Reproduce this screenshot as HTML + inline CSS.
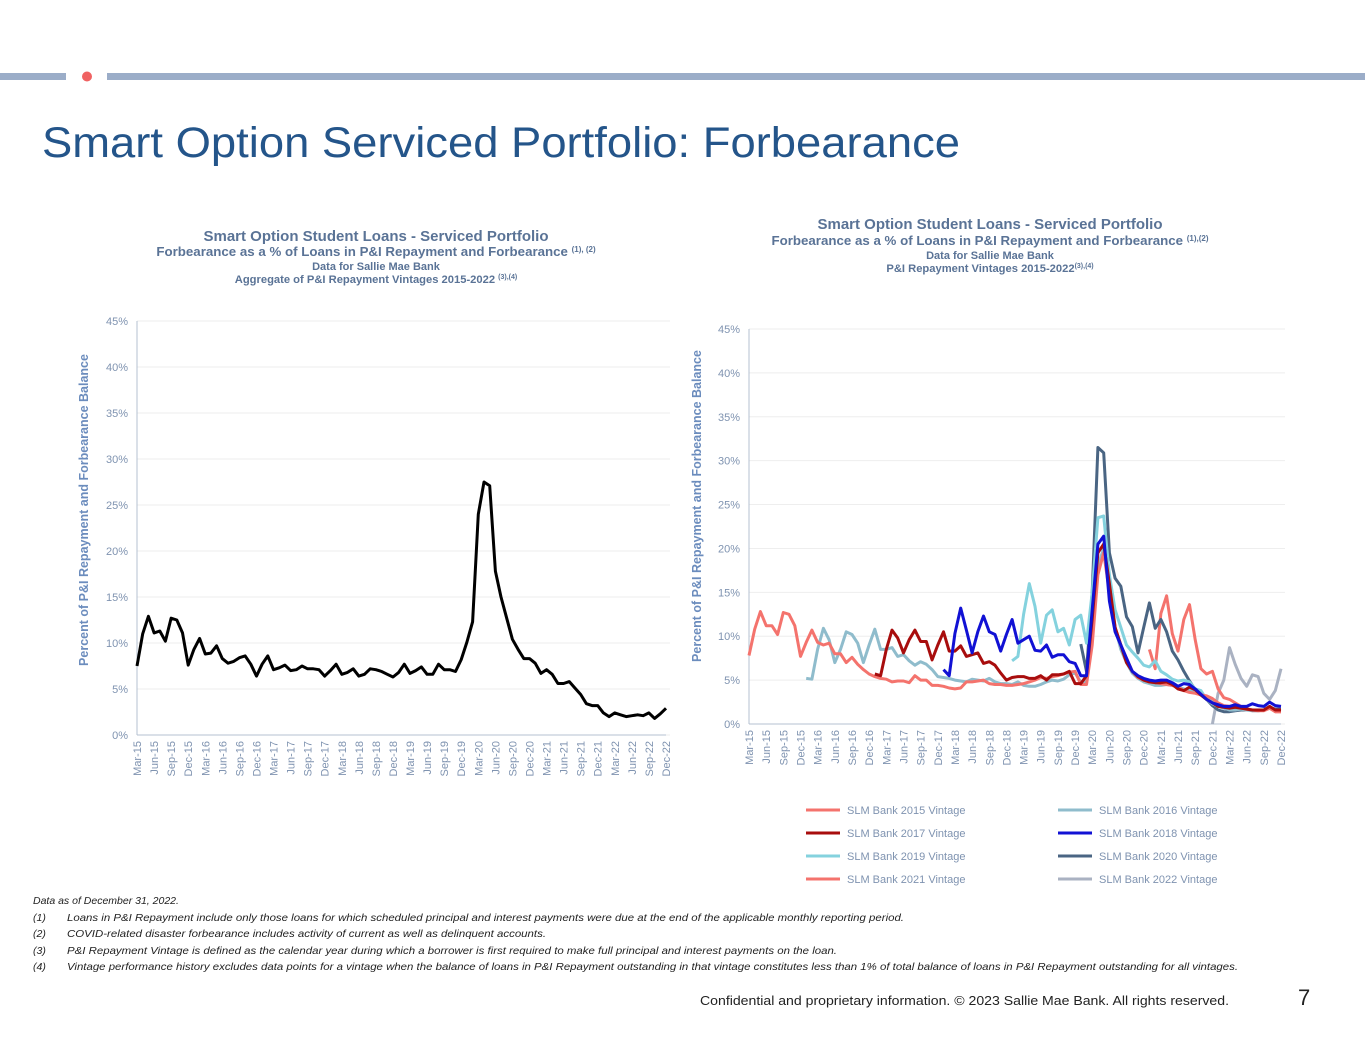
<!DOCTYPE html>
<html><head><meta charset="utf-8">
<style>
body{margin:0;background:#fff;width:1365px;height:1055px;overflow:hidden;font-family:"Liberation Sans",Arial,sans-serif;}
svg text{font-family:"Liberation Sans",Arial,sans-serif;}
</style></head>
<body>
<svg width="1365" height="1055" viewBox="0 0 1365 1055">
<rect x="0" y="73" width="66" height="7" fill="#9badc8"/>
<circle cx="87" cy="76.5" r="5" fill="#f06262"/>
<rect x="107" y="73" width="1258" height="7" fill="#9badc8"/>
<text x="42" y="157" font-size="43" fill="#24558a" textLength="918" lengthAdjust="spacingAndGlyphs">Smart Option Serviced Portfolio: Forbearance</text>

<g fill="#5a7396" font-weight="bold" text-anchor="middle">
<text x="376" y="241" font-size="15">Smart Option Student Loans - Serviced Portfolio</text>
<text x="376" y="256" font-size="13.3">Forbearance as a % of Loans in P&amp;I Repayment and Forbearance <tspan font-size="8" dy="-4">(1), (2)</tspan></text>
<text x="376" y="270" font-size="11">Data for Sallie Mae Bank</text>
<text x="376" y="283" font-size="11.2">Aggregate of P&amp;I Repayment Vintages 2015-2022 <tspan font-size="7" dy="-4">(3),(4)</tspan></text>
</g>
<g fill="#5a7396" font-weight="bold" text-anchor="middle">
<text x="990" y="229" font-size="15">Smart Option Student Loans - Serviced Portfolio</text>
<text x="990" y="245" font-size="13.3">Forbearance as a % of Loans in P&amp;I Repayment and Forbearance <tspan font-size="8" dy="-4">(1),(2)</tspan></text>
<text x="990" y="259" font-size="11">Data for Sallie Mae Bank</text>
<text x="990" y="272" font-size="11.2">P&amp;I Repayment Vintages 2015-2022<tspan font-size="7" dy="-4">(3),(4)</tspan></text>
</g>
<text transform="translate(88,510) rotate(-90)" text-anchor="middle" font-size="12.5" font-weight="bold" fill="#6b8cbd">Percent of P&amp;I Repayment and Forbearance  Balance</text>
<text transform="translate(701,506) rotate(-90)" text-anchor="middle" font-size="12.5" font-weight="bold" fill="#6b8cbd">Percent of P&amp;I Repayment and Forbearance  Balance</text>

<g id="left"></g>
<g id="right"></g>
<g id="legend"></g>

<g font-size="10.5" font-style="italic" fill="#222">
<text x="33" y="904">Data as of December 31, 2022.</text>
<text x="33" y="921">(1)</text><text x="67" y="921" textLength="837" lengthAdjust="spacingAndGlyphs">Loans in P&amp;I Repayment include only those loans for which scheduled principal and interest payments were due at the end of the applicable monthly reporting period.</text>
<text x="33" y="937">(2)</text><text x="67" y="937" textLength="479" lengthAdjust="spacingAndGlyphs">COVID-related disaster forbearance includes activity of current as well as delinquent accounts.</text>
<text x="33" y="954">(3)</text><text x="67" y="954" textLength="770" lengthAdjust="spacingAndGlyphs">P&amp;I Repayment Vintage is defined as the calendar year during which a borrower is first required to make full principal and interest payments on the loan.</text>
<text x="33" y="970">(4)</text><text x="67" y="970" textLength="1171" lengthAdjust="spacingAndGlyphs">Vintage performance history excludes data points for a vintage when the balance of loans in P&amp;I Repayment outstanding in that vintage constitutes less than 1% of total balance of loans in P&amp;I Repayment outstanding for all vintages.</text>
</g>
<text x="700" y="1005" font-size="12.5" fill="#222" textLength="529" lengthAdjust="spacingAndGlyphs">Confidential and proprietary information. © 2023 Sallie Mae Bank. All rights reserved.</text>
<text x="1298" y="1005" font-size="22" fill="#222">7</text>
</svg>
<script>
const months=["Mar","Jun","Sep","Dec"];
const yTicks=[0,5,10,15,20,25,30,35,40,45];
const aggValues=[7.5,11,12.9,11.1,11.3,10.2,12.7,12.5,11.1,7.6,
9.3,10.5,8.8,8.9,9.7,8.3,7.8,8.0,8.4,8.6,
7.7,6.4,7.7,8.6,7.1,7.3,7.6,7.0,7.1,7.5,
7.2,7.2,7.1,6.4,7.0,7.7,6.6,6.8,7.2,6.4,
6.6,7.2,7.1,6.9,6.6,6.3,6.8,7.7,6.7,7.0,
7.4,6.6,6.6,7.7,7.1,7.1,6.9,8.2,10.1,12.3,
24,27.5,27.1,17.8,15.0,12.7,10.4,9.3,8.3,8.3,
7.8,6.7,7.1,6.6,5.6,5.6,5.8,5.1,4.4,3.4,
3.2,3.2,2.4,2.0,2.4,2.2,2.0,2.1,2.2,2.1,
2.4,1.8,2.3,2.9];
const v2015=[7.8,10.8,12.8,11.2,11.2,10.2,12.7,12.5,11.2,7.7,9.3,10.7,9.3,9.0,9.2,8.0,8.0,7.0,7.6,6.8,6.2,5.7,5.4,5.2,5.1,4.8,4.9,4.9,4.7,5.5,5.0,5.0,4.4,4.4,4.3,4.1,4.0,4.1,4.8,4.8,4.9,5.0,4.6,4.5,4.5,4.4,4.4,4.5,4.6,4.8,5.0,5.3,5.2,5.4,5.5,5.7,5.9,6.0,4.5,4.5,9,17,19.5,15,11,9,7.5,6,5.3,5.0,4.8,4.7,4.6,4.5,4.4,4.2,3.8,3.6,3.5,3.3,3.2,2.9,2.4,2.1,2.0,1.9,1.8,1.7,1.6,1.5,1.5,1.8,1.4,1.4];
const v2016=[5.2,5.1,8.5,10.9,9.6,7.0,8.5,10.5,10.2,9.2,7.0,9.0,10.8,8.5,8.5,8.7,7.7,7.9,7.2,6.7,7.1,6.8,6.2,5.4,5.3,5.2,5.0,4.9,4.8,5.1,5.0,4.9,5.2,4.8,4.6,4.6,4.5,4.8,4.4,4.3,4.3,4.5,4.8,5.0,4.9,5.1,5.6,5.8,4.8,4.8,10,18,20,16,11,8.5,7,5.8,5.2,4.8,4.6,4.4,4.4,4.5,4.4,4.2,4.0,3.8,3.6,3.5,3.0,2.6,2.2,1.8,1.6,1.6,1.7,1.6,1.5,1.5,1.6,1.8,1.6,1.6];
const v2017=[5.7,5.5,8.5,10.7,9.8,8.1,9.6,10.7,9.4,9.4,7.3,9.0,10.5,8.3,8.3,8.9,7.7,7.9,8.1,6.9,7.1,6.7,5.8,5.0,5.3,5.4,5.4,5.2,5.2,5.5,5.0,5.6,5.6,5.7,6.0,4.6,4.6,5.5,12,19.5,20.5,16,11,9,7,6,5.4,5.0,4.8,4.7,4.7,4.8,4.5,4.0,3.8,4.2,3.9,3.3,2.8,2.4,2.0,1.9,1.8,1.9,1.8,1.7,1.6,1.6,1.6,2.0,1.6,1.6];
const v2018=[6.2,5.5,10.3,13.2,10.7,8.1,10.5,12.3,10.5,10.2,8.3,10.2,11.9,9.2,9.6,10.0,8.4,8.3,9.0,7.6,7.9,7.9,7.1,6.9,5.5,5.5,13,20.5,21.4,14,10.5,9,7.5,6.0,5.5,5.2,5.0,4.9,5.0,5.0,4.7,4.3,4.6,4.5,4.0,3.4,2.8,2.4,2.2,2.0,2.0,2.2,2.0,2.0,2.3,2.1,2.0,2.5,2.1,2.0];
const v2019=[7.2,7.7,12.5,16.0,13.4,9.2,12.4,13.0,10.5,10.9,9.0,11.9,12.4,9.2,15,23.5,23.7,17,13,11,9,8.2,7.5,6.7,6.5,7.2,6.0,5.6,5.1,4.9,5.0,4.8,4.0,3.8,2.8,2.3,2.0,1.8,1.7,1.7,1.8,1.6,1.6,1.6,1.6,2.0,1.6,1.5];
const v2020=[9.1,6.0,15,31.5,30.9,19.5,16.6,15.7,12.2,11.1,8.1,11.0,13.8,10.9,11.9,10.5,8.3,7.3,6.0,4.9,3.9,3.3,2.8,2.1,1.6,1.4,1.4,1.5,1.6,1.6,1.6,1.6,1.6,1.9,1.7,1.7];
const v2021=[8.5,6.3,12.6,14.6,10.3,8.3,11.9,13.6,9.6,6.3,5.7,6.0,4.0,3.0,2.8,2.4,2.0,1.8,1.5,1.5,1.6,1.9,1.4,1.4];
const v2022=[0,3.5,5.0,8.7,6.8,5.2,4.3,5.6,5.4,3.5,2.8,3.8,6.3];
const vintageNames=["SLM Bank 2015 Vintage","SLM Bank 2016 Vintage","SLM Bank 2017 Vintage","SLM Bank 2018 Vintage","SLM Bank 2019 Vintage","SLM Bank 2020 Vintage","SLM Bank 2021 Vintage","SLM Bank 2022 Vintage"];
const vintageStarts=[0,10,22,34,46,58,70,81];
const vintageValues=[v2015,v2016,v2017,v2018,v2019,v2020,v2021,v2022];
const vintageColors=["#f4736d","#8fbccc","#a80d0d","#1111d4","#84d2de","#4a6583","#f4736d","#aab2c2"];
const drawOrder=[7,6,5,4,1,0,2,3];

const NS="http://www.w3.org/2000/svg";
const N=94;
function mk(tag,attrs,parent){const e=document.createElementNS(NS,tag);for(const k in attrs)e.setAttribute(k,attrs[k]);parent.appendChild(e);return e;}
function labelFor(i){const m=months[Math.floor(i/3)%4];const y=15+Math.floor((i+2)/12);return m+"-"+y;}

function axes(g,x0,x1,y0,y1){
  const sx=i=>x0+(x1-x0)*i/(N-1);
  const sy=v=>y0-(y0-y1)*v/45;
  yTicks.forEach(t=>{
    const l=mk("line",{x1:x0,x2:x1+4,y1:sy(t),y2:sy(t),stroke:"#eeeeee","stroke-width":1},g);
    
    
    const tx=mk("text",{x:x0-9,y:sy(t)+4,"text-anchor":"end","font-size":11,fill:"#7f93b0"},g);
    tx.textContent=t+"%";
    
    
  });
  const ax=mk("line",{x1:x0,x2:x0,y1:y1,y2:y0,stroke:"#b4c0d0","stroke-width":1},g);
  
  
  const bx=mk("line",{x1:x0,x2:x1,y1:y0,y2:y0,stroke:"#b4c0d0","stroke-width":1},g);
  
  
  for(let i=0;i<N;i+=3){
    const x=sx(i)+4;
    const tx=mk("text",{transform:`translate(${x},${y0+6}) rotate(-90)`,"text-anchor":"end","font-size":11,fill:"#7f93b0"},g);
    tx.textContent=labelFor(i);
    
    
  }
  return {sx,sy};
}
function line(g,vals,start,sx,sy,color,w){
  const pts=vals.map((v,k)=>sx(start+k).toFixed(1)+","+sy(v).toFixed(1)).join(" ");
  return mk("polyline",{points:pts,fill:"none",stroke:color,"stroke-width":w,"stroke-linejoin":"round"},g);
}
const L=document.getElementById("left");
const la=axes(L,137,666,735,321);
const lp=line(L,aggValues,0,la.sx,la.sy,"#000",3);


const R=document.getElementById("right");
const ra=axes(R,749,1281,724,329);
drawOrder.forEach(k=>{
  const p=line(R,vintageValues[k],vintageStarts[k],ra.sx,ra.sy,vintageColors[k],3);
  
  
});
const G=document.getElementById("legend");
vintageNames.forEach((n,k)=>{
  const col=k%2,row=Math.floor(k/2);
  const x=col?1058:806,y=810+row*23;
  const l=mk("line",{x1:x,x2:x+34,y1:y,y2:y,stroke:vintageColors[k],"stroke-width":3},G);
  
  
  const t=mk("text",{x:x+41,y:y+4,"font-size":11,fill:"#7f93b0"},G);
  t.textContent=n;
  
  
});
</script>
</body></html>
